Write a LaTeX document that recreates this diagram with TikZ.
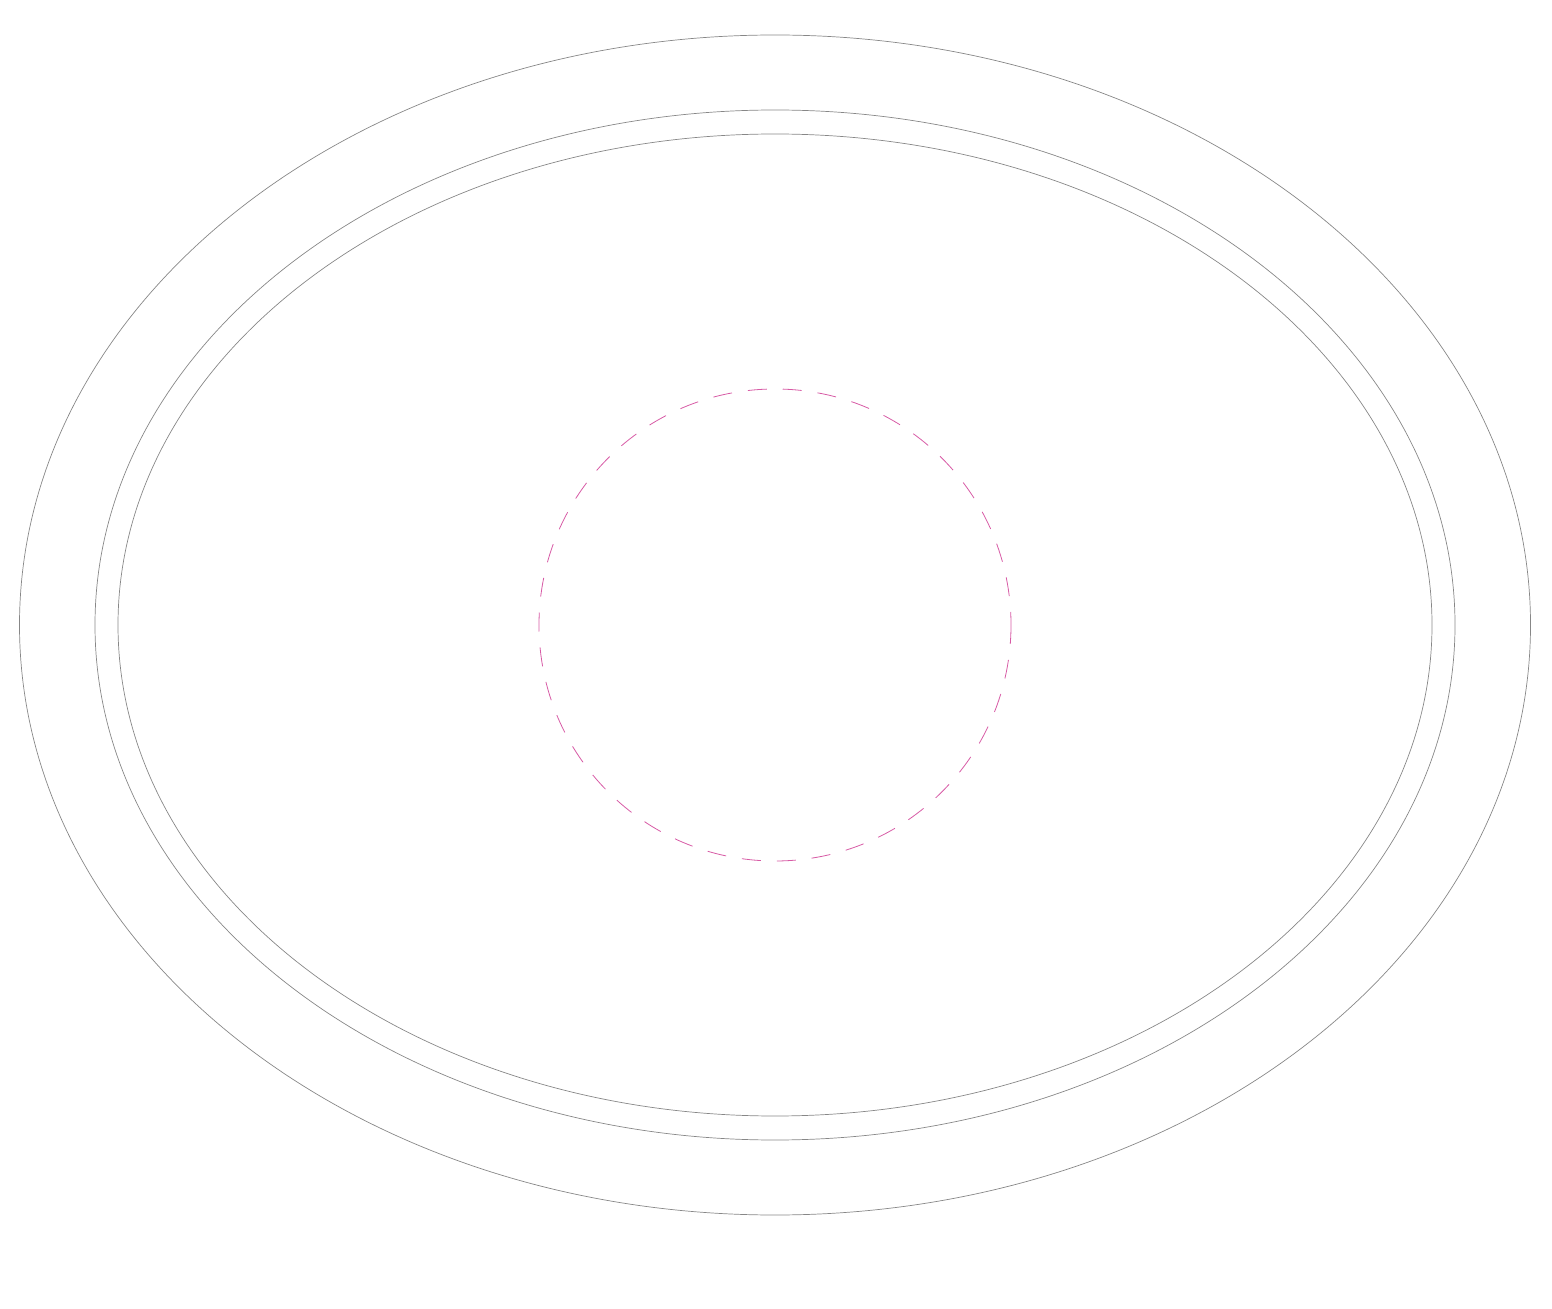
\documentclass[tikz,border=0pt]{standalone}
\definecolor{ringgray}{RGB}{135,135,135}
\definecolor{dashpink}{RGB}{215,90,165}
\begin{document}
\begin{tikzpicture}[x=0.5pt,y=-0.5pt,
  ring/.style={draw=ringgray,line width=0.35pt},
  core/.style={draw=dashpink,line width=0.4pt,dash pattern=on 9.5pt off 8pt}]
\useasboundingbox (0,0) rectangle (1552,1309);
\coordinate (c) at (775,625);
\draw[ring] (c) ellipse [x radius=755.5, y radius=590];
\draw[ring] (c) ellipse [x radius=680, y radius=515];
\draw[ring] (c) ellipse [x radius=657, y radius=491];
\draw[core] (c) circle [radius=236];
\end{tikzpicture}
\end{document}
